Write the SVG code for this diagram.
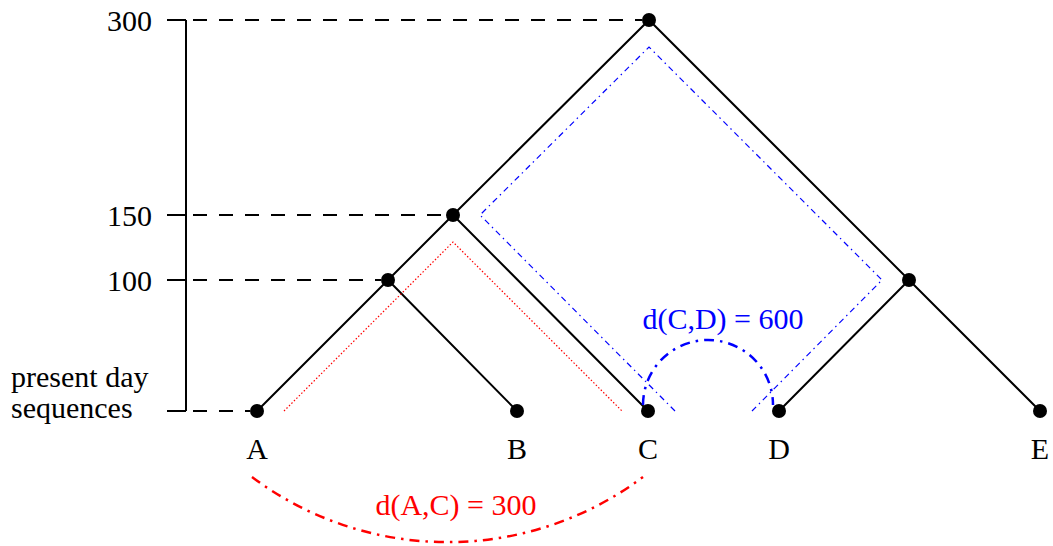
<svg xmlns="http://www.w3.org/2000/svg" width="1053" height="546" viewBox="0 0 1053 546">
<style>
text{font-family:"Liberation Serif","Times New Roman",serif;font-size:30px}
.axis{stroke:#000;stroke-width:2;fill:none}
.guide{stroke:#000;stroke-width:2;stroke-dasharray:14,12;fill:none}
.edge{stroke:#000;stroke-width:2;fill:none}
.node{fill:#000}
.red{stroke:#f00;stroke-width:1.2;stroke-dasharray:1.5,2;fill:none}
.blue{stroke:#00f;stroke-width:1.2;stroke-dasharray:6,4,1.5,4;fill:none}
.redarc{stroke:#f00;stroke-width:2.5;stroke-dasharray:10,6,2.5,6;fill:none}
.bluearc{stroke:#00f;stroke-width:2.5;stroke-dasharray:10,6,2.5,6;fill:none}
</style>
<g id="axis">
<path class="axis" d="M186 20V411M167 20H186M167 215H186M167 280H186M167 411H186"/>
<text x="152" y="31" text-anchor="end">300</text>
<text x="152" y="226" text-anchor="end">150</text>
<text x="152" y="291" text-anchor="end">100</text>
<text x="11" y="387">present day</text>
<text x="11" y="418">sequences</text>
</g>
<g id="guides">
<path class="guide" d="M193 20H642M193 215H446M193 280H381M193 411H250"/>
</g>
<g id="connectors">
<path class="edge" d="M257 411L388 280L453 215L649 20L909 280L1040 411M388 280L517 411M453 215L648 411M909 280L779 411"/>
<path class="red" d="M284 411L453 242L622 411"/>
<path class="blue" d="M675 411L480 215L649 47L882 280L752 411"/>
<path class="bluearc" d="M643 405A64.5 64.5 0 0 1 773 405"/>
<path class="redarc" d="M252 477A326 326 0 0 0 643 477"/>
</g>
<g id="node-root"><circle class="node" cx="649" cy="20" r="7"/></g>
<g id="node-150"><circle class="node" cx="453" cy="215" r="7"/></g>
<g id="node-100"><circle class="node" cx="388" cy="280" r="7"/></g>
<g id="node-right"><circle class="node" cx="909" cy="280" r="7"/></g>
<g id="node-A"><circle class="node" cx="257" cy="411" r="7"/><text x="257" y="459" text-anchor="middle">A</text></g>
<g id="node-B"><circle class="node" cx="517" cy="411" r="7"/><text x="517" y="459" text-anchor="middle">B</text></g>
<g id="node-C"><circle class="node" cx="648" cy="411" r="7"/><text x="648" y="459" text-anchor="middle">C</text></g>
<g id="node-D"><circle class="node" cx="779" cy="411" r="7"/><text x="779" y="459" text-anchor="middle">D</text></g>
<g id="node-E"><circle class="node" cx="1040" cy="411" r="7"/><text x="1040" y="459" text-anchor="middle">E</text></g>
<g id="labels">
<text x="723" y="329" text-anchor="middle" fill="#00f">d(C,D) = 600</text>
<text x="456" y="515" text-anchor="middle" fill="#f00">d(A,C) = 300</text>
</g>
</svg>
